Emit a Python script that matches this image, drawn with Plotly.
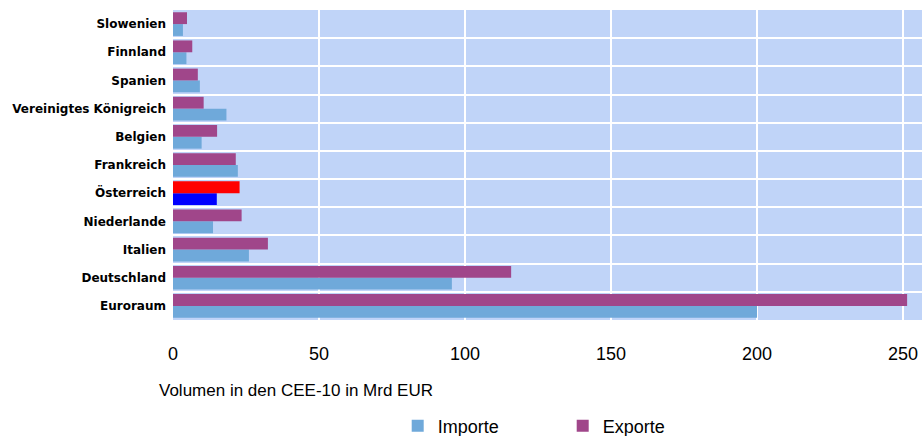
import plotly.graph_objects as go

# categories listed bottom-to-top
laender = ["Euroraum", "Deutschland", "Italien", "Niederlande", "Österreich",
           "Frankreich", "Belgien", "Vereinigtes Königreich", "Spanien",
           "Finnland", "Slowenien"]
importe = [200.0, 95.5, 26.0, 13.7, 15.0, 22.2, 9.8, 18.3, 9.2, 4.6, 3.4]
exporte = [251.4, 115.8, 32.5, 23.5, 22.8, 21.5, 15.1, 10.5, 8.5, 6.6, 4.8]
x_ticks = [0, 50, 100, 150, 200, 250]

C_IMP = "#6FA9DA"
C_EXP = "#A0468A"
highlight = "Österreich"
imp_colors = ["#0000FF" if l == highlight else C_IMP for l in laender]
exp_colors = ["#FF0000" if l == highlight else C_EXP for l in laender]

fig = go.Figure()
fig.add_trace(go.Bar(y=laender, x=importe, orientation="h", name="Importe",
                     marker=dict(color=imp_colors, line=dict(width=0))))
fig.add_trace(go.Bar(y=laender, x=exporte, orientation="h", name="Exporte",
                     marker=dict(color=exp_colors, line=dict(width=0))))

fig.update_layout(
    width=922, height=436,
    margin=dict(l=173, r=0, t=10, b=116, autoexpand=False),
    paper_bgcolor="white",
    plot_bgcolor="#C0D4F8",
    barmode="group",
    bargap=0.16,
    bargroupgap=0,
    showlegend=True,
    legend=dict(orientation="h", x=0.300, xanchor="left", y=-0.342, yanchor="middle",
                font=dict(family="Liberation Sans, Arial", size=18, color="#000"),
                entrywidth=120, entrywidthmode="pixels", itemsizing="constant"),
    xaxis=dict(range=[0, 256.5], tickvals=x_ticks, showgrid=True, gridcolor="white",
               gridwidth=2, zeroline=False, showline=False, ticks="", automargin=False,
               ticklabelstandoff=21,
               tickfont=dict(family="Liberation Sans, Arial", size=18, color="#000")),
    yaxis=dict(showgrid=True, gridcolor="white", gridwidth=2, tickson="boundaries",
               ticks="", showline=False, zeroline=False, ticklabelstandoff=6,
               automargin=False,
               tickfont=dict(family="DejaVu Sans", size=12, color="#000", weight="bold")),
    annotations=[dict(text="Volumen in den CEE-10 in Mrd EUR", xref="paper", yref="paper",
                      x=-0.021, y=-0.228, xanchor="left", yanchor="middle", showarrow=False,
                      font=dict(family="Liberation Sans, Arial", size=17, color="#000"))],
)

fig.write_html(
    "out.html",
    config={"displayModeBar": False},
    post_script="document.body.style.margin='0';document.body.style.overflow='hidden';",
)
